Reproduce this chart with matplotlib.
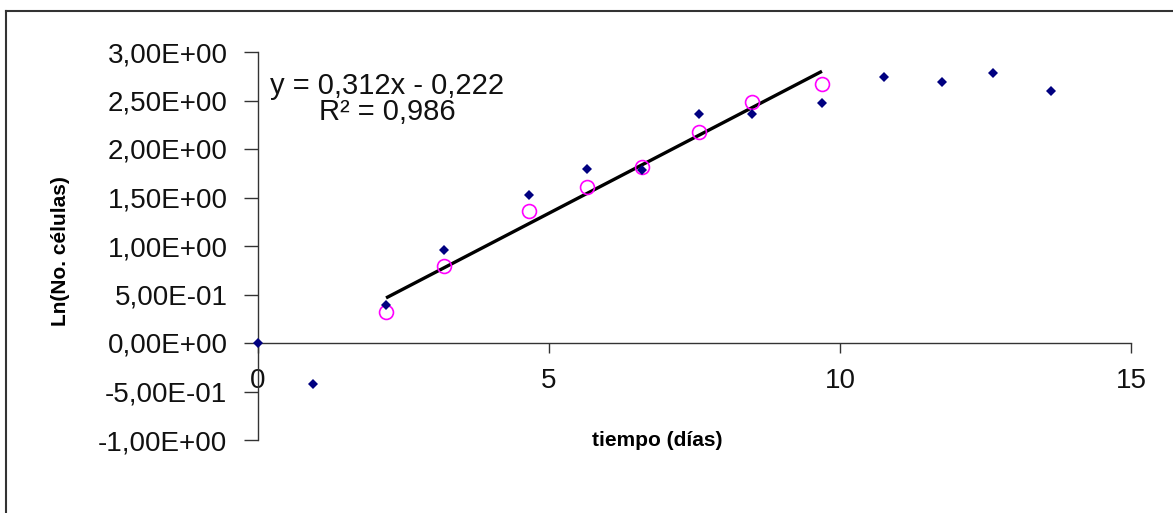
import numpy as np
import matplotlib.pyplot as plt
from matplotlib.lines import Line2D

plt.rcParams['font.family'] = ['Liberation Sans', 'DejaVu Sans']

# datos (tiempo en dias, ln del numero de celulas)
t_all = [0.0, 0.95, 2.2, 3.2, 4.66, 5.65, 6.6, 7.58, 8.49, 9.69, 10.76, 11.75, 12.63, 13.63]
ln_all = [0.0, -0.42, 0.39, 0.96, 1.53, 1.79, 1.78, 2.36, 2.36, 2.47, 2.74, 2.69, 2.78, 2.60]
# fase exponencial
t_exp = [2.2, 3.2, 4.66, 5.65, 6.6, 7.58, 8.49, 9.69]
ln_exp = [0.32, 0.79, 1.36, 1.61, 1.81, 2.18, 2.48, 2.67]
# recta de ajuste
slope = 0.312
intercept = -0.222

yticks = [-1.0, -0.5, 0.0, 0.5, 1.0, 1.5, 2.0, 2.5, 3.0]
ytick_labels = ['-1,00E+00', '-5,00E-01', '0,00E+00', '5,00E-01', '1,00E+00',
                '1,50E+00', '2,00E+00', '2,50E+00', '3,00E+00']
xticks = [0, 5, 10, 15]

W, H = 1173, 513
fig = plt.figure(figsize=(W / 100, H / 100), dpi=100)
ax = fig.add_axes([258 / W, 1 - 440 / H, (1131 - 258) / W, (440 - 52) / H])

ax.plot(t_all, ln_all, 'D', color='#000080', ms=5.2, mew=0, clip_on=False, zorder=4)
ax.plot(t_exp, ln_exp, 'o', mfc='none', mec='#FF00FF', ms=10, mew=1.2, zorder=3)
xf = np.array([t_exp[0], t_exp[-1]])
ax.plot(xf, slope * xf + intercept, color='black', lw=2.4, solid_capstyle='butt')

ax.set_xlim(0, 15)
ax.set_ylim(-1, 3)
ax.spines['top'].set_visible(False)
ax.spines['right'].set_visible(False)
ax.spines['left'].set_position(('data', 0))
ax.spines['bottom'].set_position(('data', 0))
for s in ['left', 'bottom']:
    ax.spines[s].set_color('#333333')
    ax.spines[s].set_linewidth(1.0)

ax.set_yticks(yticks)
ax.set_yticklabels(ytick_labels)
ax.set_xticks(xticks)
ax.set_xticklabels([str(v) for v in xticks])
ax.tick_params(axis='y', direction='out', length=10, width=1, color='#333333',
               labelsize=20, pad=12, labelcolor='#111111')
ax.tick_params(axis='x', direction='out', length=7, width=1, color='#333333',
               labelsize=20, pad=11, labelcolor='#111111')

fig.text(60 / W, 1 - 251 / H, 'Ln(No. células)', rotation=90, ha='center', va='center',
         fontsize=15, fontweight='bold')
fig.text(657 / W, 1 - 440 / H, 'tiempo (días)', ha='center', va='center',
         fontsize=15, fontweight='bold')
fig.text(387 / W, 1 - 99 / H, 'y = 0,312x - 0,222\nR² = 0,986', ha='center', va='center',
         fontsize=21, linespacing=0.95, color='#111111')

# marco exterior
fig.add_artist(Line2D([6 / W, 6 / W], [0, 1 - 11 / H], color='#333333', lw=1.5))
fig.add_artist(Line2D([6 / W, 1], [1 - 11 / H, 1 - 11 / H], color='#333333', lw=1.5))

fig.savefig('out.png', dpi=100)
